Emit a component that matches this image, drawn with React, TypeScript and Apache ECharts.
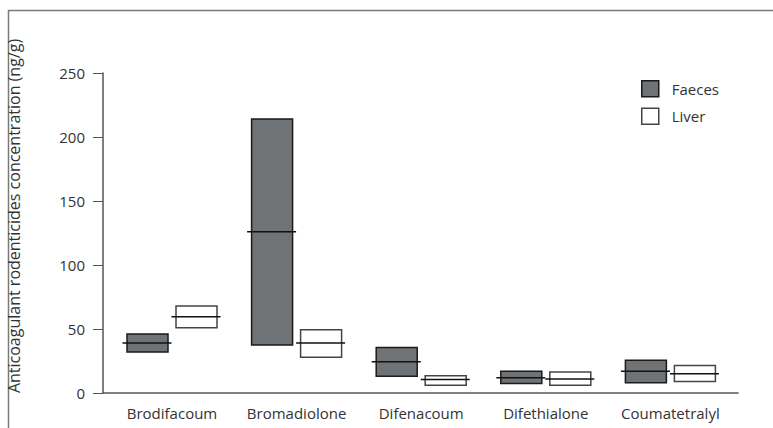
import React, { useEffect, useRef } from "react";
import * as echarts from "echarts";

const categories = ["Brodifacoum", "Bromadiolone", "Difenacoum", "Difethialone", "Coumatetralyl"];
const yTicks = [0, 50, 100, 150, 200, 250];
const yTitle = "Anticoagulant rodenticides concentration (ng/g)";

// [low, high, median] per compound
const faecesLow = [32, 37.5, 13, 7.5, 8];
const faecesHigh = [46, 214, 35.5, 17, 25.5];
const faecesMedian = [39, 126, 24.5, 12, 17];

const liverLow = [51, 28, 6, 6, 9];
const liverHigh = [68, 49.5, 13.5, 16.5, 21.5];
const liverMedian = [59.5, 39, 10.5, 11, 15];

const FONT = "'Open Sans', 'Noto Sans', sans-serif";

function boxSeries(
  name: string,
  low: number[],
  high: number[],
  median: number[],
  side: number,
  fill: string,
  stroke: string
) {
  const data = categories.map((_, i) => [i, low[i], high[i], median[i]]);
  return {
    type: "custom",
    name,
    xAxisIndex: 1,
    yAxisIndex: 1,
    itemStyle: { color: fill, borderColor: stroke },
    encode: { x: 0, y: [1, 2, 3] },
    data,
    renderItem: (params: any, api: any) => {
      const idx = api.value(0);
      const pLow = api.coord([idx, api.value(1)]);
      const pHigh = api.coord([idx, api.value(2)]);
      const pMed = api.coord([idx, api.value(3)]);
      const boxW = 41;
      const cx = pLow[0] + side * 24.5;
      return {
        type: "group",
        children: [
          {
            type: "rect",
            shape: { x: cx - boxW / 2, y: pHigh[1], width: boxW, height: pLow[1] - pHigh[1] },
            style: { fill, stroke, lineWidth: 1.5 },
          },
          {
            type: "line",
            shape: { x1: cx - boxW / 2 - 4.5, y1: pMed[1], x2: cx + boxW / 2 + 3.5, y2: pMed[1] },
            style: { stroke: "#111", lineWidth: 1.5 },
          },
        ],
      };
    },
  };
}

export default function App() {
  const ref = useRef<HTMLDivElement>(null);

  useEffect(() => {
    if (!ref.current) return;
    const chart = echarts.init(ref.current, undefined, { renderer: "svg" });
    chart.setOption({
      animation: false,
      backgroundColor: "#ffffff",
      textStyle: { fontFamily: FONT },
      graphic: [
        {
          type: "polyline",
          shape: { points: [[8.5, 428], [8.5, 10.5], [773, 10.5]] },
          style: { stroke: "#7a7a7a", lineWidth: 1.5, fill: "none" },
          silent: true,
        },
        {
          type: "text",
          x: 14,
          y: 216,
          rotation: Math.PI / 2,
          style: {
            text: yTitle,
            fontFamily: FONT,
            fontSize: 16,
            fill: "#333",
            align: "center",
            verticalAlign: "middle",
          },
          silent: true,
        },
      ],
      legend: {
        orient: "vertical",
        left: 636,
        top: 75,
        itemWidth: 17,
        itemHeight: 16,
        itemGap: 10,
        icon: "rect",
        textStyle: { fontFamily: FONT, fontSize: 15, color: "#333", padding: [0, 0, 0, 8] },
        data: [
          { name: "Faeces", itemStyle: { color: "#707375", borderColor: "#1a1a1a", borderWidth: 1.5 } },
          { name: "Liver", itemStyle: { color: "#ffffff", borderColor: "#444", borderWidth: 1.5 } },
        ],
      },
      grid: [
        { left: 103, right: 35, top: 73, bottom: 35 },
        { left: 109.7, width: 623, top: 73, bottom: 35 },
      ],
      xAxis: [
        {
          type: "category",
          gridIndex: 0,
          data: categories,
          axisLine: { lineStyle: { color: "#555", width: 1.5 } },
          axisTick: { show: false },
          axisLabel: { show: false },
        },
        {
          type: "category",
          gridIndex: 1,
          data: categories,
          axisLine: { show: false },
          axisTick: { show: false },
          axisLabel: { interval: 0, fontFamily: FONT, fontSize: 15, color: "#333", margin: 12 },
        },
      ],
      yAxis: [
        {
          type: "value",
          gridIndex: 0,
          min: 0,
          max: 250,
          interval: 50,
          axisLine: { show: true, lineStyle: { color: "#555", width: 1.5 } },
          axisTick: { show: true, length: 10, lineStyle: { color: "#555" } },
          axisLabel: {
            fontFamily: FONT,
            fontSize: 15,
            color: "#333",
            margin: 18,
            formatter: (v: number) => (yTicks.includes(v) ? String(v) : ""),
          },
          splitLine: { show: false },
        },
        {
          type: "value",
          gridIndex: 1,
          min: 0,
          max: 250,
          interval: 50,
          show: false,
          splitLine: { show: false },
        },
      ],
      series: [
        boxSeries("Faeces", faecesLow, faecesHigh, faecesMedian, -1, "#707375", "#1a1a1a"),
        boxSeries("Liver", liverLow, liverHigh, liverMedian, 1, "#ffffff", "#444"),
      ],
    });
    return () => chart.dispose();
  }, []);

  return (
    <div
      ref={ref}
      style={{ position: "fixed", left: 0, top: 0, width: 773, height: 428 }}
    />
  );
}
